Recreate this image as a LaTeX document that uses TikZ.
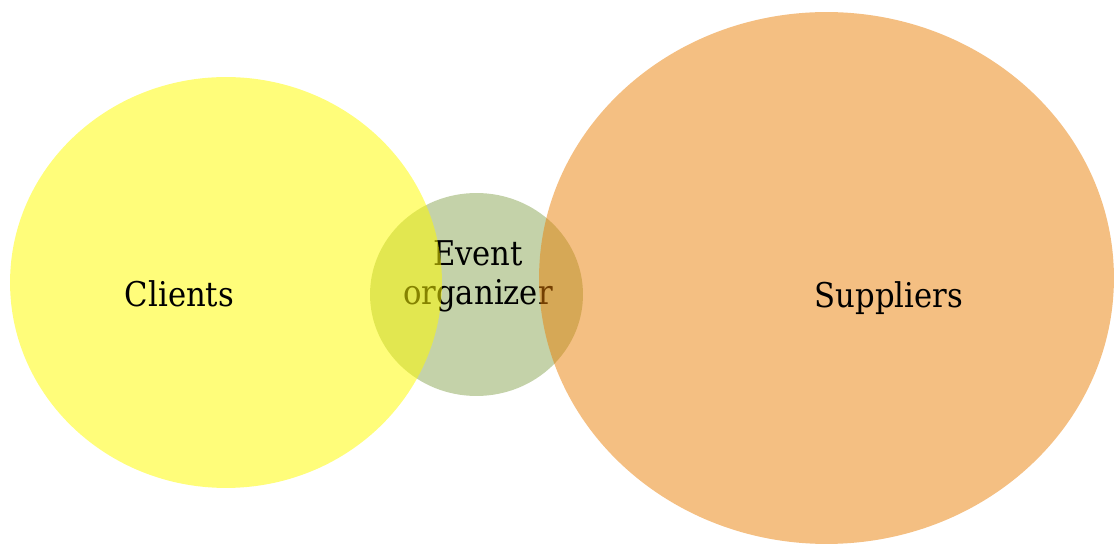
\documentclass[tikz,border=0pt]{standalone}
\usepackage{fontspec}
\setmainfont{DejaVu Serif}[FakeStretch=0.9]
\usepackage{tikz}
\usepackage{xcolor}
\usetikzlibrary{shapes.geometric, positioning}

\definecolor{clientyellow}{RGB}{255,252,0}
\definecolor{organizergreen}{RGB}{196,210,169}
\definecolor{supplierorange}{RGB}{233,127,5}

\begin{document}
\begin{tikzpicture}[
		x=0.02cm, y=0.02cm,
		party/.style={
			ellipse, draw=none, inner sep=0pt
		},
		partylabel/.style={
			align=center, inner sep=0pt, font=\fontsize{19.4}{22.2}\selectfont
		},
		]
		\useasboundingbox (0,0) rectangle (1116,544);
		
		% Event organizer in the middle
		\node [party, fill=organizergreen, minimum width=4.26cm, minimum height=4.06cm] (organizer) at (476.5,249.5) {};
		\node [partylabel, anchor=base] (organizertext) at (478,239) {Event\\organizer};
		
		% Clients
		\node [party, fill=clientyellow, fill opacity=0.52, minimum width=8.64cm, minimum height=8.22cm] (clients) at (226,261.5) {};
		\node [partylabel, anchor=base] (clientstext) at (179.5,237) {Clients};
		
		% Suppliers
		\node [party, fill=supplierorange, fill opacity=0.5, minimum width=11.5cm, minimum height=10.64cm] (suppliers) at (826.5,266) {};
		\node [partylabel, anchor=base] (supplierstext) at (889,236.7) {Suppliers};
		
	\end{tikzpicture}
\end{document}
